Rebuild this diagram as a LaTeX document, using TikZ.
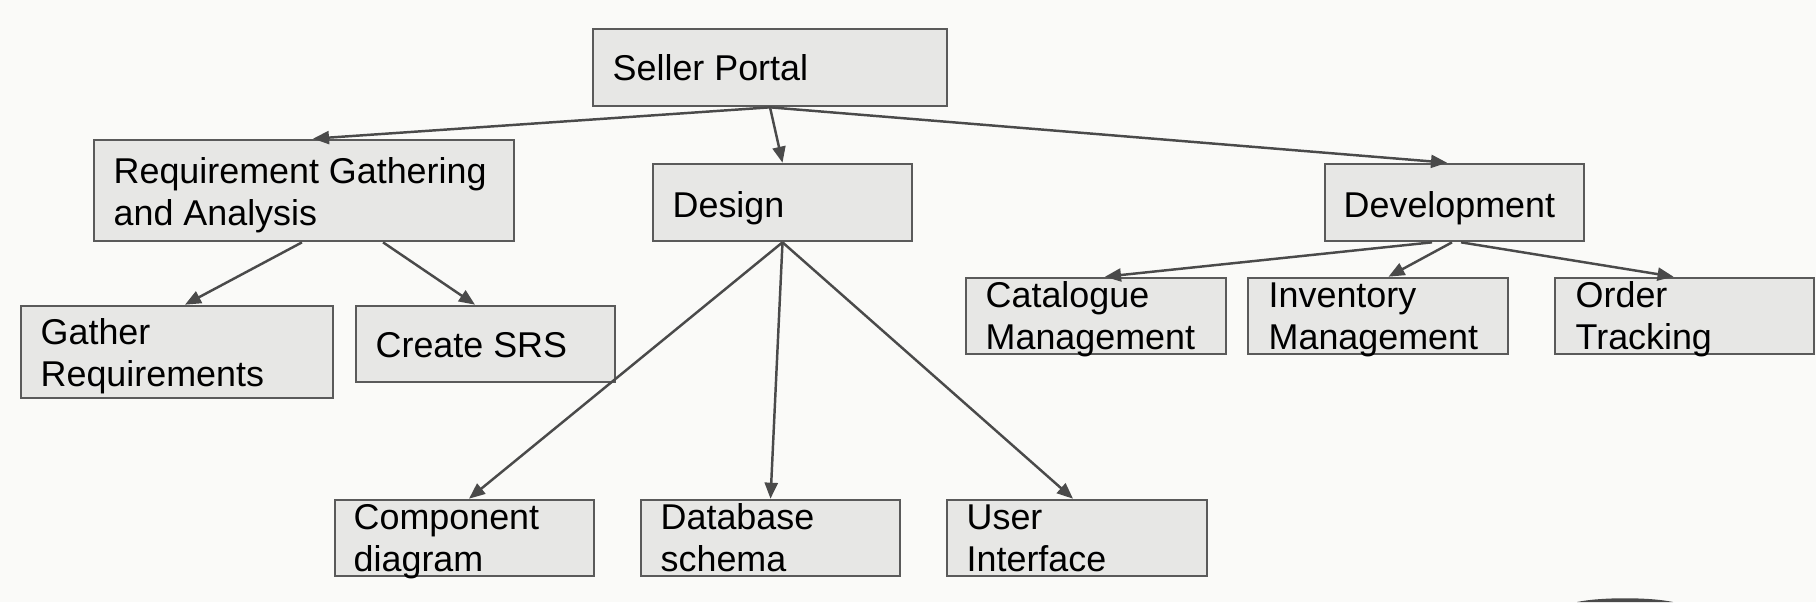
\documentclass[tikz,border=0pt]{standalone}
\usepackage{fontspec}
\setmainfont{Liberation Sans}
\usetikzlibrary{arrows.meta,calc}
\definecolor{bgc}{HTML}{FAFAF8}
\definecolor{boxfill}{HTML}{E7E7E5}
\definecolor{boxline}{HTML}{5A5A5A}
\definecolor{arr}{HTML}{4A4A4A}
\begin{document}
\begin{tikzpicture}[x=0.01cm,y=-0.01cm,
  box/.style 2 args={draw=boxline, fill=boxfill, line width=0.75pt, inner sep=0pt,
    minimum width=#1*0.01cm, minimum height=#2*0.01cm},
  txt/.style={anchor=base west, inner sep=0pt, font=\fontsize{10.2pt}{12pt}\selectfont, text=black},
  conn/.style={draw=arr, line width=0.7pt, -{Triangle[length=0.16cm,width=0.13cm]}}]
\fill[bgc] (0,0) rectangle (1816,602);
\useasboundingbox (0,0) rectangle (1816,602);

% boxes
\node[box={354}{77}]  (seller) at (770,67.5) {};
\node[box={420}{101}] (req)    at (304,190.5) {};
\node[box={259}{77}]  (design) at (782.5,202.5) {};
\node[box={259}{77}]  (dev)    at (1454.5,202.5) {};
\node[box={312}{92}]  (gather) at (177,352) {};
\node[box={259}{76}]  (srs)    at (485.5,344) {};
\node[box={260}{76}]  (cat)    at (1096,316) {};
\node[box={260}{76}]  (inv)    at (1378,316) {};
\node[box={259}{76}]  (order)  at (1684.5,316) {};
\node[box={259}{76}]  (comp)   at (464.5,538) {};
\node[box={259}{76}]  (db)     at (770.5,538) {};
\node[box={260}{76}]  (ui)     at (1077,538) {};

% texts
\node[txt] (seller-t) at (612,80) {Seller Portal};
\node[txt] (req-t1) at (113,183) {Requirement Gathering};
\node[txt] (req-t2) at (113,225) {and Analysis};
\node[txt] (design-t) at (672,217) {Design};
\node[txt] (dev-t) at (1343,217) {Development};
\node[txt] (gather-t1) at (40,344) {Gather};
\node[txt] (gather-t2) at (40,386) {Requirements};
\node[txt] (srs-t) at (375,357) {Create SRS};
\node[txt] (cat-t1) at (985,307) {Catalogue};
\node[txt] (cat-t2) at (985,349) {Management};
\node[txt] (inv-t1) at (1268,307) {Inventory};
\node[txt] (inv-t2) at (1268,349) {Management};
\node[txt] (order-t1) at (1575,307) {Order};
\node[txt] (order-t2) at (1575,349) {Tracking};
\node[txt] (comp-t1) at (353,529) {Component};
\node[txt] (comp-t2) at (353,571) {diagram};
\node[txt] (db-t1) at (660,529) {Database};
\node[txt] (db-t2) at (660,571) {schema};
\node[txt] (ui-t1) at (966,529) {User};
\node[txt] (ui-t2) at (966,571) {Interface};

% connectors
\draw[conn] (seller.south) -- ([xshift=0.09cm]req.north);
\draw[conn] (seller.south) -- (design.north);
\draw[conn] (seller.south) -- ([xshift=-0.075cm]dev.north);
\draw[conn] ([xshift=-0.02cm]req.south) -- ([xshift=0.08cm]gather.north);
\draw[conn] ([xshift=0.79cm]req.south) -- ([xshift=-0.105cm]srs.north);
\draw[conn] (design.south) -- ([xshift=0.045cm]comp.north);
\draw[conn] (design.south) -- (db.north);
\draw[conn] (design.south) -- ([xshift=-0.04cm]ui.north);
\draw[conn] ([xshift=-0.225cm]dev.south) -- ([xshift=0.09cm]cat.north);
\draw[conn] ([xshift=-0.025cm]dev.south) -- ([xshift=0.105cm]inv.north);
\draw[conn] ([xshift=0.065cm]dev.south) -- ([xshift=-0.11cm]order.north);

% small dark mark at the bottom edge
\fill[arr] (1577,602) .. controls (1600,597) and (1650,597) .. (1673,602) -- cycle;
\end{tikzpicture}
\end{document}
